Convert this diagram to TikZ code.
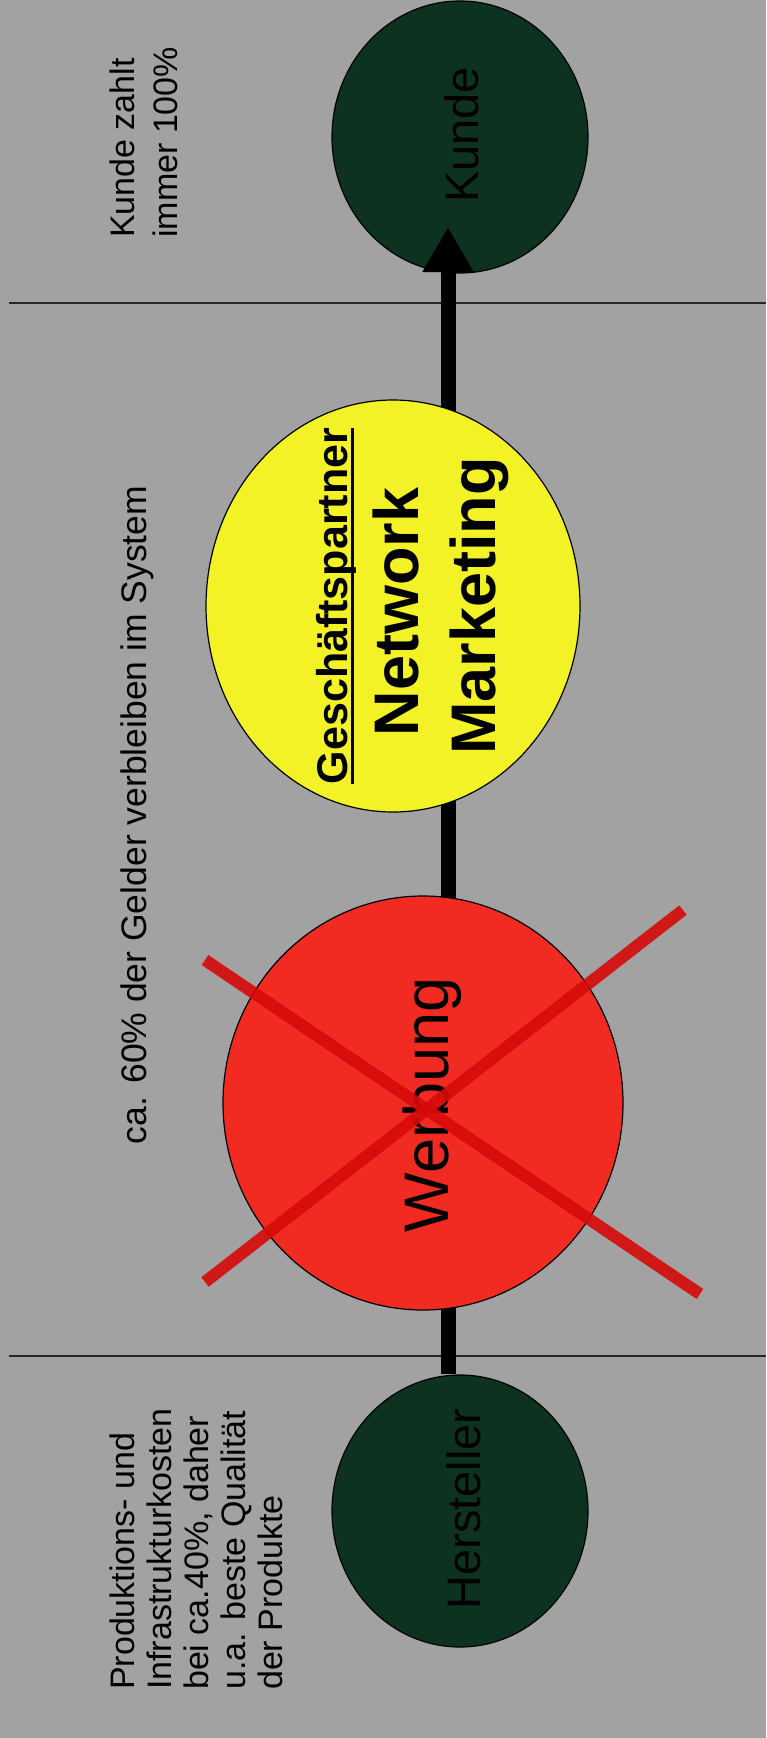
\documentclass[tikz,border=0pt]{standalone}
\usepackage{fontspec}
\setmainfont{Liberation Sans}
\usetikzlibrary{arrows.meta,shapes.geometric}
\definecolor{paper}{RGB}{162,162,162}
\definecolor{deepgreen}{RGB}{14,50,32}
\definecolor{signal}{RGB}{241,42,34}
\definecolor{lemon}{RGB}{242,242,38}
\definecolor{strike}{RGB}{215,10,10}

\begin{document}
\begin{tikzpicture}[x=1pt, y=-1pt,
  blob/.style={draw, line width=1.2pt, ellipse, inner sep=0pt},
  txt/.style={inner sep=0pt, rotate=90, anchor=base},
  note/.style={inner sep=0pt, rotate=90, align=left, anchor=base west, font=\fontsize{34}{37}\selectfont},
  sep/.style={line width=2pt, black!85},
  flow/.style={line width=15pt, -{Triangle[length=45pt, width=48pt]}},
  cross/.style={strike, line width=12pt, opacity=.9}]
\fill[paper] (0,0) rectangle (766,1738);
\useasboundingbox (0,0) rectangle (766,1738);
\draw[sep] (9,303) -- (766,303);
\draw[sep] (9,1356) -- (766,1356);
\node[blob, fill=deepgreen, minimum width=256pt, minimum height=272pt] (hersteller) at (460,1511) {};
\node[blob, fill=deepgreen, minimum width=256pt, minimum height=272pt] (kunde) at (460,137) {};
\coordinate (tip) at (448,227);
\draw[flow] (hersteller.north -| tip) -- (tip);
\node[blob, fill=signal, minimum width=400pt, minimum height=414pt] (werbung) at (423,1103) {};
\node[blob, fill=lemon, minimum width=374pt, minimum height=412pt] (partner) at (393,606) {};
\node[txt, font=\fontsize{47}{50}\selectfont] (kundetxt) at (478,135) {Kunde};
\node[txt, font=\fontsize{47}{50}\selectfont] (herstellertxt) at (480,1509) {Hersteller};
\node[txt, font=\fontsize{63}{66}\selectfont] (werbungtxt) at (448,1105) {Werbung};
\draw[cross] (205,960) -- (700,1294);
\draw[cross] (683,910) -- (205,1282);
\node[txt, text depth=5pt, font=\bfseries\fontsize{43}{46}\selectfont] (gp) at (347,606) {Geschäftspartner};
\draw[line width=3pt] (gp.south west) -- (gp.south east);
\node[txt, font=\bfseries\fontsize{63}{66}\selectfont] (network) at (418,612) {Network};
\node[txt, font=\bfseries\fontsize{63}{66}\selectfont] (marketing) at (495,606) {Marketing};
\node[note, font=\fontsize{34}{43}\selectfont] (zahlt) at (177,238) {Kunde zahlt\\immer 100\%};
\node[txt, font=\fontsize{35.5}{40}\selectfont] (system) at (146,815) {ca. 60\% der Gelder verbleiben im System};
\node[note] (kosten) at (282,1690) {Produktions- und\\Infrastrukturkosten\\bei ca.40\%, daher\\u.a. beste Qualität\\der Produkte};
\end{tikzpicture}
\end{document}
